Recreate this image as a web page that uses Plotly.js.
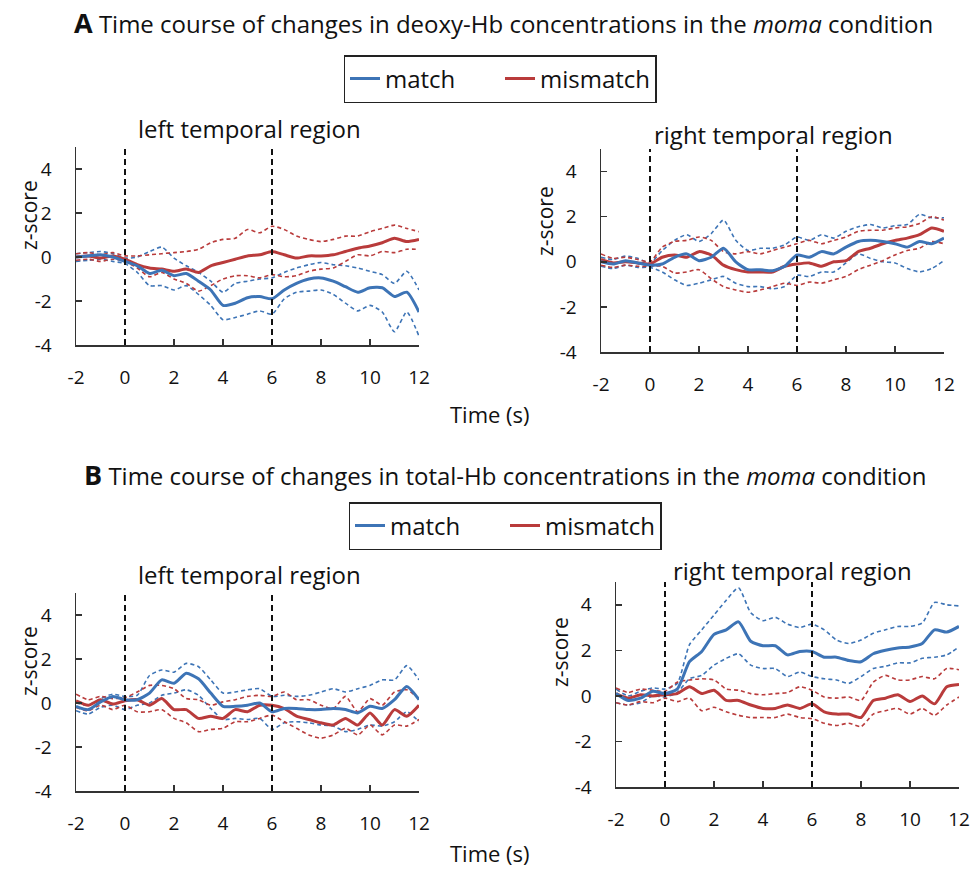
<!DOCTYPE html>
<html>
<head>
<meta charset="utf-8">
<script src="https://cdn.plot.ly/plotly-3.0.1.min.js"></script>
<style>html,body{margin:0;padding:0;background:#fff;}#chart{width:977px;height:870px;}</style>
</head>
<body>
<div id="chart"></div>
<script>
// ---- data ----
const timeS = [-2,-1.5,-1,-0.5,0,0.5,1,1.5,2,2.5,3,3.5,4,4.5,5,5.5,6,6.5,7,7.5,8,8.5,9,9.5,10,10.5,11,11.5,12];
const markerTimes = [0, 6];
const xTickVals = [-2,0,2,4,6,8,10,12];
const xTickText = ['-2','0','2','4','6','8','10','12'];
const yTickVals = [-4,-2,0,2,4];
const yTickText = ['-4','-2','0','2','4'];
const seriesNames = ['match', 'mismatch'];
const panelTitles = ['left temporal region', 'right temporal region', 'left temporal region', 'right temporal region'];
const sectionTitles = ['<b><span style="font-size:27px">A</span></b> Time course of changes in deoxy-Hb concentrations in the <i>moma</i> condition',
                       '<b><span style="font-size:27px">B</span></b> Time course of changes in total-Hb concentrations in the <i>moma</i> condition'];

// A: deoxy-Hb, left
const aLeftMatchMean = [0,0.05,0.1,0,-0.2,-0.4,-0.75,-0.6,-0.85,-0.75,-1.1,-1.5,-2.2,-2.1,-1.85,-1.8,-1.9,-1.5,-1.2,-1.0,-0.95,-1.1,-1.35,-1.6,-1.4,-1.4,-1.8,-1.6,-2.5];
const aLeftMatchUp   = [0.15,0.2,0.25,0.15,-0.05,0.0,0.25,0.45,-0.05,-0.4,-0.7,-1.1,-1.6,-1.2,-1.1,-1.0,-0.95,-0.7,-0.5,-0.35,-0.25,-0.35,-0.4,-0.5,-0.65,-0.8,-1.2,-0.65,-1.5];
const aLeftMatchLo   = [-0.2,-0.15,-0.1,-0.2,-0.3,-0.7,-1.3,-1.3,-1.5,-1.3,-1.7,-2.2,-2.85,-2.75,-2.6,-2.45,-2.6,-1.9,-1.6,-1.55,-1.5,-1.7,-2.1,-2.45,-2.2,-2.5,-3.4,-2.5,-3.6];
const aLeftMismatchMean = [0,0.05,-0.05,0.05,-0.1,-0.35,-0.5,-0.55,-0.65,-0.55,-0.7,-0.4,-0.25,-0.1,0.05,0.1,0.25,0.1,-0.05,0.05,0.05,0.1,0.25,0.4,0.5,0.65,0.85,0.7,0.8];
const aLeftMismatchUp   = [0.15,0.2,0.1,0.2,0.05,0.05,0.1,0.15,0.2,0.25,0.35,0.65,0.8,0.85,1.25,1.1,1.4,1.25,0.95,0.8,0.7,0.8,0.95,0.95,1.15,1.3,1.45,1.3,1.15];
const aLeftMismatchLo   = [-0.15,-0.1,-0.2,-0.1,-0.2,-0.5,-0.9,-0.7,-1.0,-1.2,-1.55,-1.3,-1.0,-0.85,-0.85,-0.95,-0.8,-0.9,-0.85,-0.65,-0.55,-0.5,-0.2,0.1,0.05,0.25,0.2,0.35,0.35];

// A: deoxy-Hb, right
const aRightMatchMean = [0,-0.1,0.05,-0.05,-0.15,-0.1,0.2,0.35,0.05,0.2,0.6,0,-0.35,-0.35,-0.4,-0.2,0.3,0.2,0.45,0.35,0.65,0.9,0.95,0.9,0.8,0.65,0.9,0.8,1.05];
const aRightMatchUp   = [0.2,0.1,0.25,0.15,-0.05,0.5,0.95,1.2,0.9,1.25,1.85,0.95,0.5,0.6,0.6,0.75,1.1,0.95,1.2,1.05,1.35,1.55,1.65,1.5,1.6,1.65,2.1,1.95,1.95];
const aRightMatchLo   = [-0.2,-0.3,-0.15,-0.25,-0.25,-0.45,-0.8,-1.05,-0.95,-0.8,-0.65,-0.95,-1.1,-1.1,-1.2,-1.1,-0.6,-0.65,-0.45,-0.45,-0.05,0.35,0.15,0,-0.05,-0.3,-0.45,-0.3,0.05];
const aRightMismatchMean = [0.1,-0.05,0,-0.05,-0.1,0.2,0.3,0.2,0.45,0.3,-0.15,-0.35,-0.45,-0.45,-0.45,-0.2,-0.1,-0.05,-0.2,0,0.05,0.45,0.6,0.8,0.95,1.05,1.2,1.5,1.35];
const aRightMismatchUp   = [0.35,0.15,0.2,0.1,0,0.65,0.9,0.95,1.1,0.95,0.45,0.35,0.45,0.35,0.5,0.65,0.8,0.95,0.8,0.95,1.1,1.35,1.4,1.4,1.5,1.55,1.7,2.0,1.85];
const aRightMismatchLo   = [-0.15,-0.25,-0.15,-0.2,-0.2,-0.2,-0.5,-0.45,-0.35,-0.75,-1.1,-1.25,-1.35,-1.25,-1.1,-0.95,-1.05,-0.9,-0.95,-0.8,-0.65,-0.35,-0.15,0.05,0.3,0.5,0.6,0.9,0.8];

// B: total-Hb, left
const bLeftMatchMean = [-0.15,-0.3,0.05,0.3,0.15,0.15,0.45,1.05,0.9,1.35,1.1,0.45,-0.15,-0.15,-0.1,0,-0.4,-0.25,-0.25,-0.3,-0.3,-0.25,-0.3,-0.45,-0.15,-0.25,0.15,0.75,0.15];
const bLeftMatchUp   = [0,-0.1,0.2,0.4,0.3,0.35,1.25,1.5,1.4,1.8,1.65,1.05,0.45,0.5,0.6,0.65,0.3,0.35,0.3,0.35,0.5,0.65,0.5,0.65,0.8,1.05,1.05,1.7,1.05];
const bLeftMatchLo   = [-0.35,-0.5,-0.2,-0.1,-0.3,-0.1,0,0.35,0.45,0.6,0.35,-0.25,-0.75,-0.7,-0.75,-0.7,-1.2,-0.9,-0.85,-0.9,-1.0,-1.05,-1.3,-1.2,-1.0,-1.05,-0.85,-0.4,-0.85];
const bLeftMismatchMean = [0.1,-0.1,0.15,-0.05,0.1,0.15,-0.1,0.2,-0.3,-0.3,-0.7,-0.6,-0.7,-0.3,-0.4,-0.1,-0.1,-0.25,-0.6,-0.75,-0.9,-1.0,-0.7,-1.0,-0.45,-1.0,-0.3,-0.6,-0.1];
const bLeftMismatchUp   = [0.4,0.15,0.3,0.2,0.25,0.5,0.8,0.8,0.65,0.2,0.15,-0.1,0.05,0.15,0.3,0.35,0.3,0.5,0.15,0.15,-0.1,-0.25,0.3,-0.4,0.2,-0.1,0.5,0.6,0.2];
const bLeftMismatchLo   = [-0.2,-0.35,-0.1,-0.3,-0.1,-0.4,-0.4,-0.3,-0.7,-0.9,-1.3,-1.2,-1.15,-0.85,-0.85,-0.7,-0.55,-0.85,-1.15,-1.45,-1.6,-1.45,-1.15,-1.45,-1.0,-1.45,-1.0,-1.05,-0.75];

// B: total-Hb, right
const bRightMatchMean = [0.1,-0.2,-0.1,0.2,0.1,0.3,1.5,1.95,2.7,2.9,3.25,2.4,2.2,2.2,1.8,1.95,1.95,1.7,1.7,1.55,1.5,1.85,2.0,2.1,2.15,2.3,2.9,2.8,3.05];
const bRightMatchUp   = [0.3,0,0.2,0.35,0.3,0.55,2.25,2.9,3.55,4.2,4.75,3.65,3.3,3.45,3.15,3.0,3.15,2.9,2.45,2.3,2.45,2.75,2.9,3.05,3.05,3.2,4.1,4.0,3.95];
const bRightMatchLo   = [-0.3,-0.4,-0.3,0,-0.05,0.15,0.75,0.9,1.35,1.65,1.85,1.35,1.2,1.2,0.85,1.05,0.85,0.75,0.7,0.55,0.85,1.2,1.3,1.45,1.45,1.65,1.7,1.8,2.15];
const bRightMismatchMean = [0.1,-0.1,0.05,0,0.05,0.1,0.4,0.1,0.25,-0.2,-0.2,-0.4,-0.55,-0.55,-0.4,-0.55,-0.35,-0.7,-0.8,-0.8,-0.95,-0.2,-0.1,0.05,-0.25,0,-0.35,0.4,0.5];
const bRightMismatchUp   = [0.35,0.15,0.3,0.25,0.2,0.6,0.7,0.75,0.7,0.3,0.25,0.1,0.05,0.1,0.15,0.4,0.25,-0.05,-0.1,-0.05,-0.2,0.6,0.9,0.7,0.7,0.85,0.75,1.2,1.15];
const bRightMismatchLo   = [-0.3,-0.4,-0.25,-0.3,-0.1,-0.25,-0.1,-0.65,-0.5,-0.7,-0.85,-0.95,-0.95,-0.95,-0.8,-0.95,-1.0,-1.2,-1.3,-1.2,-1.35,-0.8,-0.65,-0.55,-0.8,-0.55,-0.85,-0.4,-0.05];

// ---- styling / layout ----
const FONT = 'Open Sans, Noto Sans, sans-serif';
const BLUE = '#3D74B6';
const RED = '#B93B3B';

const panels = [
  {sfx:'',  match:[aLeftMatchMean,aLeftMatchUp,aLeftMatchLo],   mis:[aLeftMismatchMean,aLeftMismatchUp,aLeftMismatchLo],   legend:'legend'},
  {sfx:'2', match:[aRightMatchMean,aRightMatchUp,aRightMatchLo], mis:[aRightMismatchMean,aRightMismatchUp,aRightMismatchLo], legend:null},
  {sfx:'3', match:[bLeftMatchMean,bLeftMatchUp,bLeftMatchLo],   mis:[bLeftMismatchMean,bLeftMismatchUp,bLeftMismatchLo],   legend:'legend2'},
  {sfx:'4', match:[bRightMatchMean,bRightMatchUp,bRightMatchLo], mis:[bRightMismatchMean,bRightMismatchUp,bRightMismatchLo], legend:null}
];

const traces = [];
panels.forEach(p => {
  const xa = 'x' + p.sfx, ya = 'y' + p.sfx;
  const groups = [[p.match, BLUE, seriesNames[0]], [p.mis, RED, seriesNames[1]]];
  groups.forEach(([arr, col, name]) => {
    [arr[1], arr[2]].forEach(ci => traces.push({
      x: timeS, y: ci, xaxis: xa, yaxis: ya, mode: 'lines', showlegend: false, hoverinfo: 'skip',
      line: {color: col, width: 1.6, dash: '4px,3px', shape: 'spline', smoothing: 0.6}
    }));
  });
  groups.slice().reverse().forEach(([arr, col, name]) => {
    const tr = {
      x: timeS, y: arr[0], xaxis: xa, yaxis: ya, mode: 'lines', name: name,
      line: {color: col, width: 3, shape: 'spline', smoothing: 0.6},
      showlegend: !!p.legend
    };
    if (p.legend) { tr.legend = p.legend; tr.legendrank = name === 'match' ? 1 : 2; }
    traces.push(tr);
  });
});

const W = 977, H = 870;
const px = v => v / W;
const py = v => (H - v) / H;

function xAxis(l, r, anchor) {
  return {domain: [px(l), px(r)], range: [-2, 12], anchor: anchor, showgrid: false, zeroline: false,
    showline: true, linecolor: '#333', linewidth: 1.5, ticks: 'inside', ticklen: 6, tickwidth: 1.5, tickcolor: '#333',
    tickvals: xTickVals, ticktext: xTickText, tickfont: {family: FONT, size: 19, color: '#111'},
    ticklabelstandoff: 15, fixedrange: true};
}
function yAxis(top, bottom, anchor) {
  return {domain: [py(bottom), py(top)], range: [-4, 5], anchor: anchor, showgrid: false, zeroline: false,
    showline: true, linecolor: '#333', linewidth: 1.5, ticks: 'inside', ticklen: 6, tickwidth: 1.5, tickcolor: '#333',
    tickvals: yTickVals, ticktext: yTickText, tickfont: {family: FONT, size: 19, color: '#111'},
    ticklabelstandoff: 19, fixedrange: true};
}

const shapes = [];
['', '2', '3', '4'].forEach(s => markerTimes.forEach(m => shapes.push({
  type: 'line', xref: 'x' + s, yref: 'y' + s + ' domain', x0: m, x1: m, y0: 0, y1: 1,
  line: {color: '#111', width: 2, dash: '6px,4px'}
})));

const ann = (text, x, y, size, extra) => Object.assign({text: text, x: px(x), y: py(y), xref: 'paper', yref: 'paper',
  showarrow: false, xanchor: 'center', yanchor: 'middle', font: {family: FONT, size: size, color: '#111'}}, extra || {});

const annotations = [
  ann(sectionTitles[0], 503, 22, 24),
  ann(sectionTitles[1], 505, 475, 24),
  ann(panelTitles[0], 249, 128, 24),
  ann(panelTitles[1], 773, 134, 24),
  ann(panelTitles[2], 249, 574, 24),
  ann(panelTitles[3], 792, 570, 24),
  ann('z-score', 29, 215, 21, {textangle: -90}),
  ann('z-score', 545, 221, 21, {textangle: -90}),
  ann('z-score', 29, 661, 21, {textangle: -90}),
  ann('z-score', 560, 652, 21, {textangle: -90}),
  ann('Time (s)', 490, 414, 22),
  ann('Time (s)', 490, 853, 22)
];

const legendBase = {orientation: 'h', xanchor: 'center', yanchor: 'middle', bordercolor: '#222', borderwidth: 1.5,
  bgcolor: '#fff', font: {family: FONT, size: 24, color: '#111'}, traceorder: 'normal',
  entrywidth: 110, entrywidthmode: 'pixels', itemclick: false, itemdoubleclick: false};

const layout = {
  width: W, height: H, margin: {l: 0, r: 0, t: 0, b: 0}, paper_bgcolor: '#fff', plot_bgcolor: 'rgba(0,0,0,0)',
  font: {family: FONT},
  xaxis: xAxis(76, 419, 'y'),   yaxis: yAxis(147, 345, 'x'),
  xaxis2: xAxis(601, 944, 'y2'), yaxis2: yAxis(149, 352, 'x2'),
  xaxis3: xAxis(76, 419, 'y3'),  yaxis3: yAxis(593, 791, 'x3'),
  xaxis4: xAxis(616, 959, 'y4'), yaxis4: yAxis(582, 787, 'x4'),
  legend: Object.assign({x: px(500), y: py(79)}, legendBase),
  legend2: Object.assign({x: px(505), y: py(526)}, legendBase),
  shapes: shapes,
  annotations: annotations,
  showlegend: true
};

Plotly.newPlot('chart', traces, layout, {staticPlot: true, displayModeBar: false});
</script>
</body>
</html>
